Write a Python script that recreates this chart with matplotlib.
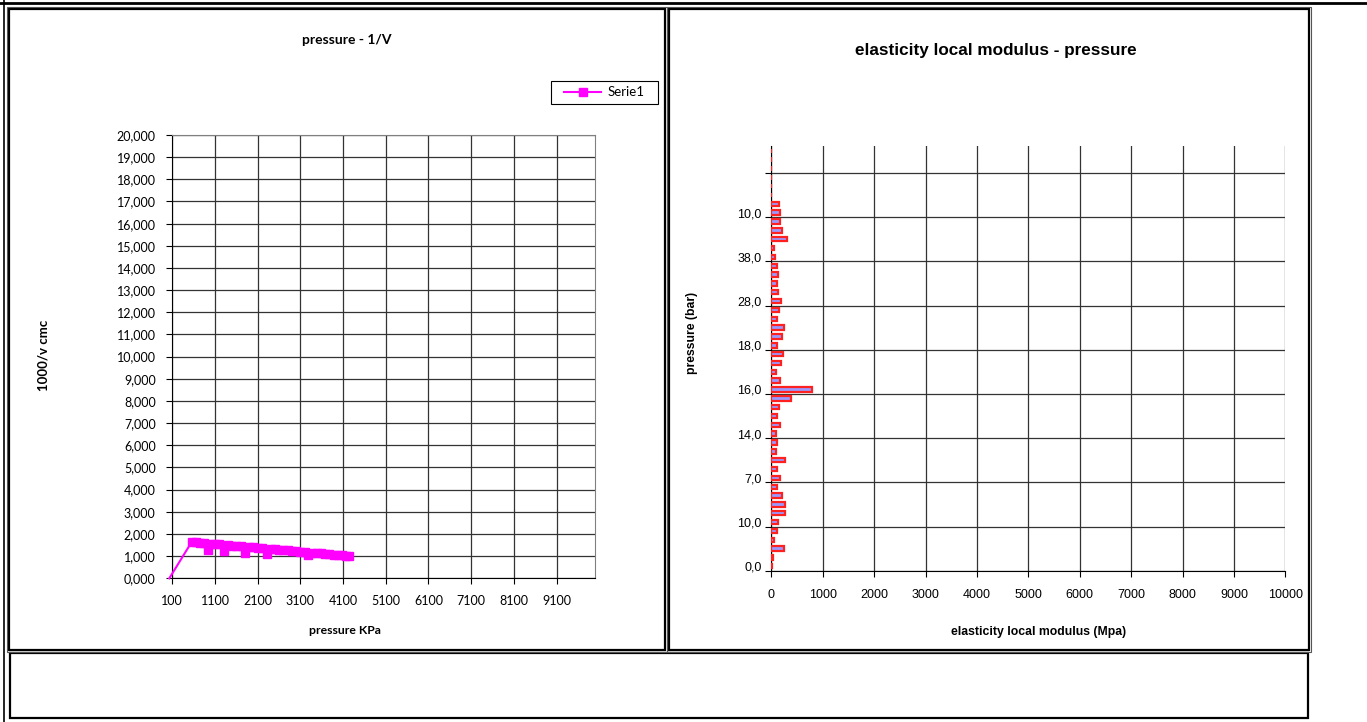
import matplotlib
matplotlib.use("Agg")
import matplotlib.pyplot as plt
from matplotlib.patches import Rectangle
from matplotlib.lines import Line2D
from matplotlib.ticker import FixedLocator, FuncFormatter

W, H = 1367, 722

# --- left chart: pressure - 1/V ---
pressure_kpa = [30, 554, 650, 760, 850, 943, 1000, 1100, 1200, 1318, 1400, 1500, 1600,
                1700, 1803, 1900, 2000, 2100, 2200, 2311, 2400, 2500, 2600, 2700, 2800,
                2900, 3000, 3100, 3200, 3285, 3380, 3480, 3580, 3680, 3780, 3880, 3980,
                4080, 4160, 4245]
inv_volume = [0, 1639, 1635, 1610, 1590, 1264, 1564, 1547, 1530, 1218, 1496, 1479, 1461,
              1444, 1159, 1410, 1393, 1376, 1359, 1114, 1325, 1308, 1291, 1274, 1257,
              1240, 1222, 1205, 1188, 1068, 1158, 1141, 1123, 1106, 1089, 1072, 1055,
              1038, 1025, 1013]
left_xticks = [100, 1100, 2100, 3100, 4100, 5100, 6100, 7100, 8100, 9100]
left_yticks = list(range(0, 20001, 1000))

# --- right chart: elasticity local modulus - pressure (bottom category first) ---
modulus_mpa = [10, 25, 240, 58, 104, 130, 272, 272, 214, 117,
               169, 110, 272, 91, 117, 97, 175, 104, 156, 376,
               791, 169, 91, 182, 220, 117, 201, 246, 117, 143,
               188, 123, 104, 130, 117, 78, 58, 305, 208, 175,
               169, 143, 0, 0, 0, 0, 0, 0]
cat_label_pos = [0, 5, 10, 15, 20, 25, 30, 35, 40, 45]
cat_labels = ["0,0", "10,0", "7,0", "14,0", "16,0", "18,0", "28,0", "38,0", "10,0", ""]
right_xticks = list(range(0, 10001, 1000))


def fx(x):
    return x / W


def fy(y):
    return 1 - y / H


fig = plt.figure(figsize=(W / 100, H / 100), dpi=100, facecolor="white")

# spreadsheet-like frames
frame_kw = dict(transform=fig.transFigure, fill=False, edgecolor="black", zorder=0)
fig.add_artist(Line2D([0, 1], [fy(3), fy(3)], transform=fig.transFigure, color="black", lw=2))
fig.add_artist(Line2D([fx(4), fx(4)], [0, 1], transform=fig.transFigure, color="black", lw=1.2))
for (x0, y0, x1, y1) in [(9, 9, 665, 650), (669, 9, 1309, 650), (10, 653, 1308, 718)]:
    fig.add_artist(Rectangle((fx(x0), fy(y1)), fx(x1) - fx(x0), fy(y0) - fy(y1),
                             linewidth=1.6, **frame_kw))
for (x0, y0, x1, y1) in [(7, 7, 667, 652), (667, 7, 1311, 652)]:
    fig.add_artist(Rectangle((fx(x0), fy(y1)), fx(x1) - fx(x0), fy(y0) - fy(y1),
                             linewidth=0.8, edgecolor="#555555", transform=fig.transFigure,
                             fill=False, zorder=0))

# ===== Left chart =====
lfont = "Lato"
axL = fig.add_axes([fx(172.3), fy(578.3), fx(595) - fx(172.3), fy(135) - fy(578.3)])
axL.plot(pressure_kpa, inv_volume, color="#FF00FF", lw=1.5, marker="s", markersize=6,
         markevery=slice(1, None), clip_on=False, zorder=5, label="Serie1")
axL.set_xlim(100, 10000)
axL.set_ylim(0, 20000)
axL.set_xticks(left_xticks)
axL.set_yticks(left_yticks)
axL.yaxis.set_major_formatter(FuncFormatter(lambda v, p: f"{v / 1000:.3f}".replace(".", ",")))
axL.grid(True, color="#333333", lw=0.9)
axL.set_axisbelow(True)
for s in ["top", "right"]:
    axL.spines[s].set_color("#808080")
for s in ["left", "bottom"]:
    axL.spines[s].set_color("black")
axL.tick_params(direction="out", length=4, width=0.8, labelsize=9, pad=8)
for lab in axL.get_xticklabels() + axL.get_yticklabels():
    lab.set_family(lfont)
leg = axL.legend(loc="center", bbox_to_anchor=(fx(604.5), fy(92.5)),
                 bbox_transform=fig.transFigure, fancybox=False, edgecolor="black",
                 framealpha=1, handlelength=2.8, handletextpad=0.5, borderpad=0.4,
                 borderaxespad=0, prop={"family": lfont, "size": 9.5})
leg.get_frame().set_linewidth(0.8)
leg._legend_box.set_width(96)

fig.text(fx(347), fy(40), "pressure - 1/V", ha="center", va="center",
         fontsize=10, fontweight="bold", family=lfont)
fig.text(fx(345), fy(630), "pressure KPa", ha="center", va="center",
         fontsize=8.8, fontweight="bold", family=lfont)
fig.text(fx(43), fy(355), "1000/v cmc", ha="center", va="center", rotation=90,
         fontsize=9.5, fontweight="bold", family=lfont)

# ===== Right chart =====
rfont = "Liberation Sans"
axR = fig.add_axes([fx(771.3), fy(570.7), fx(1285.3) - fx(771.3), fy(146.4) - fy(570.7)])
cats = list(range(len(modulus_mpa)))
axR.barh(cats, modulus_mpa, height=0.5, color="#9999FF", edgecolor="#FF2020",
         linewidth=1.6, zorder=3)
axR.set_xlim(0, 10000)
axR.set_ylim(-0.5, len(modulus_mpa) - 0.5)
axR.set_xticks(right_xticks)
axR.yaxis.set_major_locator(FixedLocator([-0.5 + 5 * k for k in range(10)]))
axR.yaxis.set_major_formatter(FuncFormatter(lambda v, p: ""))
axR.yaxis.set_minor_locator(FixedLocator(cat_label_pos))
axR.set_yticklabels(cat_labels, minor=True)
axR.tick_params(axis="y", which="minor", length=0, labelsize=9, pad=7)
axR.tick_params(axis="y", which="major", direction="out", length=4, width=0.8)
axR.tick_params(axis="x", direction="out", length=4, width=0.8, labelsize=9, pad=9)
for lab in axR.get_xticklabels() + axR.get_yticklabels(minor=True):
    lab.set_family(rfont)
axR.grid(True, axis="both", which="major", color="#333333", lw=0.9)
axR.set_axisbelow(True)
axR.spines["top"].set_visible(False)
axR.spines["right"].set_visible(False)

fig.text(fx(996), fy(50), "elasticity local modulus - pressure", ha="center", va="center",
         fontsize=12.3, fontweight="bold", family=rfont)
fig.text(fx(1039), fy(632), "elasticity local modulus (Mpa)", ha="center", va="center",
         fontsize=8.8, fontweight="bold", family=rfont)
fig.text(fx(692), fy(333), "pressure (bar)", ha="center", va="center", rotation=90,
         fontsize=8.8, fontweight="bold", family=rfont)

fig.savefig("out.png", dpi=100, facecolor="white")
